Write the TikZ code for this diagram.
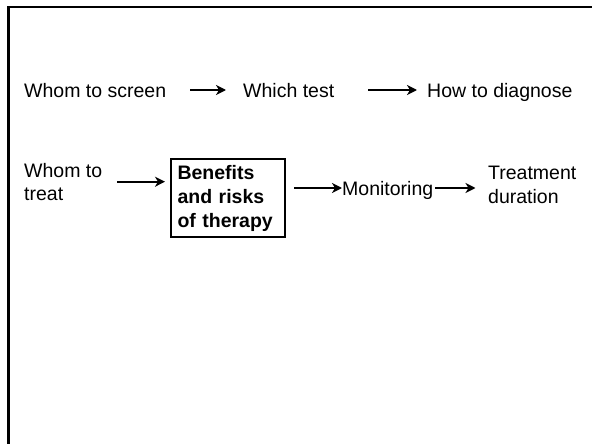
\documentclass[tikz,border=0pt]{standalone}
\usepackage{fontspec}
\setmainfont{Liberation Sans}
\usetikzlibrary{arrows.meta}
\usetikzlibrary{calc}
\tikzset{lbl/.style={anchor=west,inner sep=0pt,font=\fontsize{19.5}{23}\selectfont,text height=14pt,text depth=0pt},
  lbltwo/.style={anchor=north west,inner sep=0pt,align=left,font=\fontsize{19.5}{23}\selectfont},
  flow/.style={-{Stealth[length=10pt,width=10pt,inset=3pt]},line width=2pt}}

\begin{document}
\begin{tikzpicture}[x=1pt,y=-1pt]
  \useasboundingbox (0,0) rectangle (592,444);
  \draw[line width=2.6pt] (8.5,444) -- (8.5,7) -- (592,7);
  % diagnosis row
  \node[lbl] (screen) at (24,90) {Whom to screen};
  \node[lbl] (test) at (243,90) {Which test};
  \node[lbl] (diag) at (427,90) {How to diagnose};
  \draw[flow,shorten <=24pt,shorten >=17pt] (screen.east) -- (test.west);
  \draw[flow,shorten <=34pt,shorten >=10pt] (test.east) -- (diag.west);
  % treatment row
  \node[lbltwo,font=\fontsize{19.5}{22.7}\selectfont] (treat) at (24,163) {Whom to\\treat};
  \node[draw,line width=2pt,anchor=north west,minimum width=114pt,minimum height=78.6pt,
    text width=101pt,inner xsep=6.5pt,align=left,font=\bfseries\fontsize{19.5}{24}\selectfont]
    (risks) at (170,157.7) {Benefits\\and risks\\of therapy};
  \node[lbl] (mon) at (342,188) {Monitoring};
  \node[lbltwo,font=\fontsize{19.5}{24}\selectfont] (dur) at (488,166) {Treatment\\duration};
  \draw[flow,shorten <=15pt,shorten >=5pt] (treat.east) -- (treat.east -| risks.west);
  \draw[flow,shorten <=8pt] (risks.east |- mon.west) -- (mon.west);
  \draw[flow,shorten <=2pt,shorten >=12.5pt] (mon.east) -- (mon.east -| dur.west);
\end{tikzpicture}
\end{document}
